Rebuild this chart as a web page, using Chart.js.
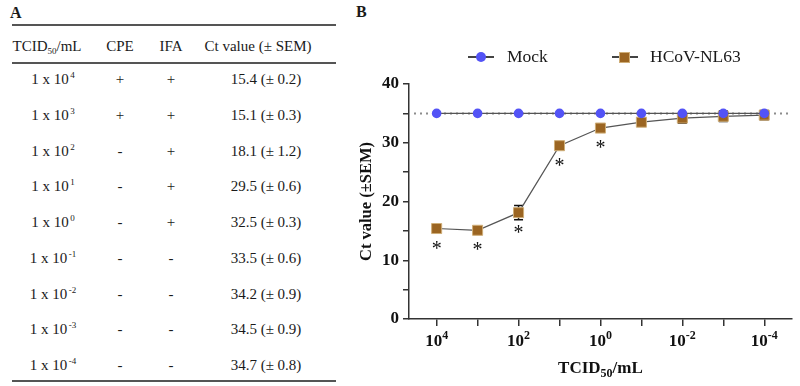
<!DOCTYPE html>
<html>
<head>
<meta charset="utf-8">
<script src="https://cdn.jsdelivr.net/npm/chart.js@4.4.1/dist/chart.umd.min.js"></script>
<style>
  body { margin: 0; width: 800px; height: 386px; position: relative; overflow: hidden; background: #fff;
         font-family: "Liberation Serif", "Times New Roman", serif; color: #1a1a1a; }
  .t { position: absolute; transform: translate(-50%, -50%); white-space: nowrap; font-size: 15px; line-height: 1; }
  .t sup { position: relative; top: -0.65em; vertical-align: baseline; font-size: 9px; margin-left: 1.5px; }
  .t sub { position: relative; top: 0.3em; vertical-align: baseline; font-size: 9px; }
  .rule { position: absolute; left: 12px; width: 324px; height: 1.5px; background: #555; }
  .panel { position: absolute; font-weight: bold; font-size: 16px; line-height: 1; }
  #chart { position: absolute; left: 340px; top: 0; }
  .leg { position: absolute; font-size: 17.5px; line-height: 1; transform: translateY(-50%); white-space: nowrap; }
  .legline { position: absolute; height: 1.5px; background: #444; }
</style>
</head>
<body>
<div class="panel" style="left:10px;top:5px">A</div>
<div class="panel" style="left:356px;top:4px">B</div>
<div id="table"></div>
<canvas id="chart" width="460" height="386"></canvas>
<div id="legend"></div>

<script>
// Datos de la tabla y del gráfico (TCID50/mL como exponente de 10)
const exponents = [4, 3, 2, 1, 0, -1, -2, -3, -4]
const cpe = ["+", "+", "-", "-", "-", "-", "-", "-", "-"]
const ifa = ["+", "+", "+", "+", "+", "-", "-", "-", "-"]
const ctMean = [15.4, 15.1, 18.1, 29.5, 32.5, 33.5, 34.2, 34.5, 34.7]
const ctSem = [0.2, 0.3, 1.2, 0.6, 0.3, 0.6, 0.9, 0.9, 0.8]
const mockCt = [35, 35, 35, 35, 35, 35, 35, 35, 35]
const significant = [true, true, true, true, true, false, false, false, false]
const cutoffCt = 35
const xLabelExps = [4, 2, 0, -2, -4]

const mockColor = "#5353f6"
const hcovColor = "#9b6522"
const serif = "'Liberation Serif', 'Times New Roman', serif"

// Tabla (panel A)
function buildTable() {
  const t = document.getElementById("table")
  let html = ""
  const rules = [25, 63, 381]
  rules.forEach((y) => { html += `<div class="rule" style="top:${y - 0.75}px"></div>` })
  const hy = 46
  html += `<div class="t" style="left:47px;top:${hy}px">TCID<sub>50</sub>/mL</div>`
  html += `<div class="t" style="left:120px;top:${hy}px">CPE</div>`
  html += `<div class="t" style="left:171px;top:${hy}px">IFA</div>`
  html += `<div class="t" style="left:258px;top:${hy}px">Ct value (± SEM)</div>`
  exponents.forEach((e, i) => {
    const y = 79 + i * 35.75
    html += `<div class="t" style="left:53px;top:${y}px">1 x 10<sup>${e}</sup></div>`
    html += `<div class="t" style="left:120px;top:${y}px">${cpe[i]}</div>`
    html += `<div class="t" style="left:171px;top:${y}px">${ifa[i]}</div>`
    html += `<div class="t" style="left:266px;top:${y}px">${ctMean[i].toFixed(1)} (± ${ctSem[i].toFixed(1)})</div>`
  })
  t.innerHTML = html
}

// Leyenda
function buildLegend() {
  const l = document.getElementById("legend")
  l.innerHTML =
    `<div class="legline" style="left:468px;top:56px;width:26px"></div>` +
    `<div style="position:absolute;left:476px;top:52px;width:10px;height:10px;border-radius:50%;background:${mockColor}"></div>` +
    `<div class="leg" style="left:507px;top:57px">Mock</div>` +
    `<div class="legline" style="left:612px;top:56px;width:26px"></div>` +
    `<div style="position:absolute;left:619px;top:52px;width:9px;height:9px;background:${hcovColor};border:1px solid #cfae78"></div>` +
    `<div class="leg" style="left:650px;top:57px">HCoV-NL63</div>`
}

// Marcas extra: línea de corte, barras de error, asteriscos y etiquetas con exponentes
const extras = {
  id: "extras",
  beforeDatasetsDraw(chart) {
    const { ctx, chartArea: a, scales: { x, y } } = chart
    ctx.save()
    const yc = y.getPixelForValue(cutoffCt)
    ctx.strokeStyle = "#8c8c8c"
    ctx.lineWidth = 2
    ctx.setLineDash([2, 4])
    ctx.beginPath()
    ctx.moveTo(a.left + 5, yc)
    ctx.lineTo(a.right, yc)
    ctx.stroke()
    ctx.setLineDash([])

    ctx.strokeStyle = "#111"
    ctx.lineWidth = 1.5
    exponents.forEach((e, i) => {
      const px = x.getPixelForValue(e)
      const lo = y.getPixelForValue(ctMean[i] - ctSem[i])
      const hi = y.getPixelForValue(ctMean[i] + ctSem[i])
      ctx.beginPath()
      ctx.moveTo(px, lo); ctx.lineTo(px, hi)
      ctx.moveTo(px - 4.5, lo); ctx.lineTo(px + 4.5, lo)
      ctx.moveTo(px - 4.5, hi); ctx.lineTo(px + 4.5, hi)
      ctx.stroke()
    })
    ctx.restore()
  },
  afterDraw(chart) {
    const { ctx, chartArea: a, scales: { x, y } } = chart
    ctx.save()
    ctx.fillStyle = "#111"

    // asteriscos
    ctx.font = `20px ${serif}`
    ctx.textAlign = "center"
    ctx.textBaseline = "alphabetic"
    exponents.forEach((e, i) => {
      if (!significant[i]) return
      ctx.fillText("*", x.getPixelForValue(e), y.getPixelForValue(ctMean[i]) + 17 + 9)
    })

    // etiquetas del eje x: 10^n
    ctx.textAlign = "left"
    const base = x.top + 27
    xLabelExps.forEach((e) => {
      const px = x.getPixelForValue(e)
      ctx.font = `bold 17px ${serif}`
      const w1 = ctx.measureText("10").width
      ctx.font = `bold 12px ${serif}`
      const w2 = ctx.measureText(String(e)).width
      const left = px - (w1 + w2) / 2
      ctx.font = `bold 17px ${serif}`
      ctx.fillText("10", left, base)
      ctx.font = `bold 12px ${serif}`
      ctx.fillText(String(e), left + w1, base - 7.5)
    })

    // título del eje x con subíndice
    const parts = [["TCID", 17, 0], ["50", 12, 4], ["/mL", 17, 0]]
    let total = 0
    parts.forEach((p) => { ctx.font = `bold ${p[1]}px ${serif}`; total += ctx.measureText(p[0]).width })
    let cx = (a.left + a.right) / 2 - total / 2
    const tb = x.bottom - 13.5
    parts.forEach((p) => {
      ctx.font = `bold ${p[1]}px ${serif}`
      ctx.fillText(p[0], cx, tb + p[2])
      cx += ctx.measureText(p[0]).width
    })
    ctx.restore()
  },
}

function initializeChart() {
  const ctx = document.getElementById("chart").getContext("2d")
  new Chart(ctx, {
    type: "line",
    data: {
      datasets: [
        {
          label: "Mock",
          data: exponents.map((e, i) => ({ x: e, y: mockCt[i] })),
          borderColor: "#555",
          borderWidth: 1.2,
          pointStyle: "circle",
          pointRadius: 4.8,
          pointBackgroundColor: mockColor,
          pointBorderColor: mockColor,
          pointBorderWidth: 0,
        },
        {
          label: "HCoV-NL63",
          data: exponents.map((e, i) => ({ x: e, y: ctMean[i] })),
          borderColor: "#555",
          borderWidth: 1.2,
          pointStyle: "rect",
          pointRadius: 7.1,
          pointBackgroundColor: hcovColor,
          pointBorderColor: "#cfae78",
          pointBorderWidth: 1,
        },
      ],
    },
    options: {
      responsive: false,
      animation: false,
      layout: { padding: { top: 84, right: 3, left: 0, bottom: 0 } },
      plugins: { legend: { display: false }, tooltip: { enabled: false } },
      scales: {
        x: {
          type: "linear",
          min: -4.675,
          max: 4.675,
          reverse: true,
          afterBuildTicks: (s) => { s.ticks = exponents.map((v) => ({ value: v })) },
          afterFit: (s) => { s.height = 67 },
          grid: { drawOnChartArea: false, drawTicks: true, tickLength: 7, color: "#333", lineWidth: 1.5 },
          border: { color: "#333", width: 1.5 },
          ticks: { autoSkip: false, callback: () => "", font: { size: 16 } },
        },
        y: {
          min: 0,
          max: 40,
          afterFit: (s) => { s.width = 69 },
          grid: { drawOnChartArea: false, drawTicks: true, tickLength: 6, color: "#333", lineWidth: 1.5 },
          border: { color: "#333", width: 1.5 },
          ticks: {
            stepSize: 5,
            autoSkip: false,
            padding: 4,
            color: "#111",
            font: { family: serif, size: 17, weight: "bold" },
            callback: (v) => (v % 10 === 0 ? v : ""),
          },
          title: {
            display: true,
            text: "Ct value (±SEM)",
            color: "#111",
            font: { family: serif, size: 16.5, weight: "bold" },
            padding: { top: 17, bottom: 0 },
          },
        },
      },
    },
    plugins: [extras],
  })
}

window.addEventListener("load", () => {
  buildTable()
  buildLegend()
  initializeChart()
})
</script>
</body>
</html>
